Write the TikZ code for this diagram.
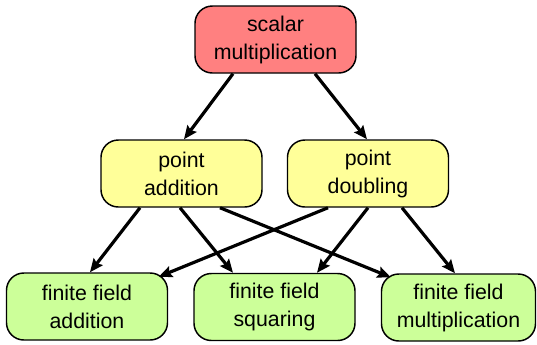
\documentclass[tikz,border=0pt]{standalone}
\usepackage{fontspec}
\setmainfont{Liberation Sans}
\usepackage{xcolor}
\usepackage{tikz}
\usetikzlibrary{arrows.meta,calc}
\definecolor{topred}{HTML}{FF8080}
\definecolor{midyellow}{HTML}{FFFF99}
\definecolor{lowgreen}{HTML}{CCFF99}
\tikzstyle{box} = [draw=black, line width=1.1pt, rounded corners=13pt, align=center,
  minimum width=120.75pt, minimum height=50.25pt, inner sep=2pt,
  font=\fontsize{16}{21}\selectfont]
\tikzstyle{arrow} = [line width=2.4pt, -{Stealth[length=10pt,width=8.5pt,inset=1.5pt]}]

\begin{document}
\begin{tikzpicture}[x=0.75pt, y=-0.75pt]
    \useasboundingbox (0,0) rectangle (537,344);

    % top level
    \node[box, fill=topred] (sm) at (275.5,39.5) {scalar\\multiplication};

    % point operations
    \node[box, fill=midyellow] (pa) at (181.5,173.5) {point\\addition};
    \node[box, fill=midyellow] (pd) at (368,173.5) {point\\doubling};

    % field operations
    \node[box, fill=lowgreen] (ffa) at (87,306.5) {finite field\\addition};
    \node[box, fill=lowgreen] (ffs) at (274.5,307) {finite field\\squaring};
    \node[box, fill=lowgreen, minimum width=115.5pt] (ffm) at (458.5,307.5) {finite field\\multiplication};

    % arrows from the top
    \draw[arrow] ($(sm.south)+(-42.5,0)$) -- ($(pa.north)+(2.5,0)$);
    \draw[arrow] ($(sm.south)+(39.5,0)$) -- ($(pd.north)+(-1,0)$);

    % arrows from point addition
    \draw[arrow] ($(pa.south)+(-41.5,0)$) -- ($(ffa.north)+(3,0)$);
    \draw[arrow] ($(pa.south)+(-1.5,0)$) -- ($(ffs.north)+(-41.5,0)$);
    \draw[arrow] ($(pa.south)+(38.5,0)$) -- ($(ffm.north west)+(10,4)$);

    % arrows from point doubling
    \draw[arrow] ($(pd.south)+(-40,0)$) -- ($(ffa.north east)+(-9.5,4.5)$);
    \draw[arrow] (pd.south) -- ($(ffs.north)+(42.5,0)$);
    \draw[arrow] ($(pd.south)+(34,0)$) -- ($(ffm.north)+(-3.5,0)$);

\end{tikzpicture}
\end{document}
